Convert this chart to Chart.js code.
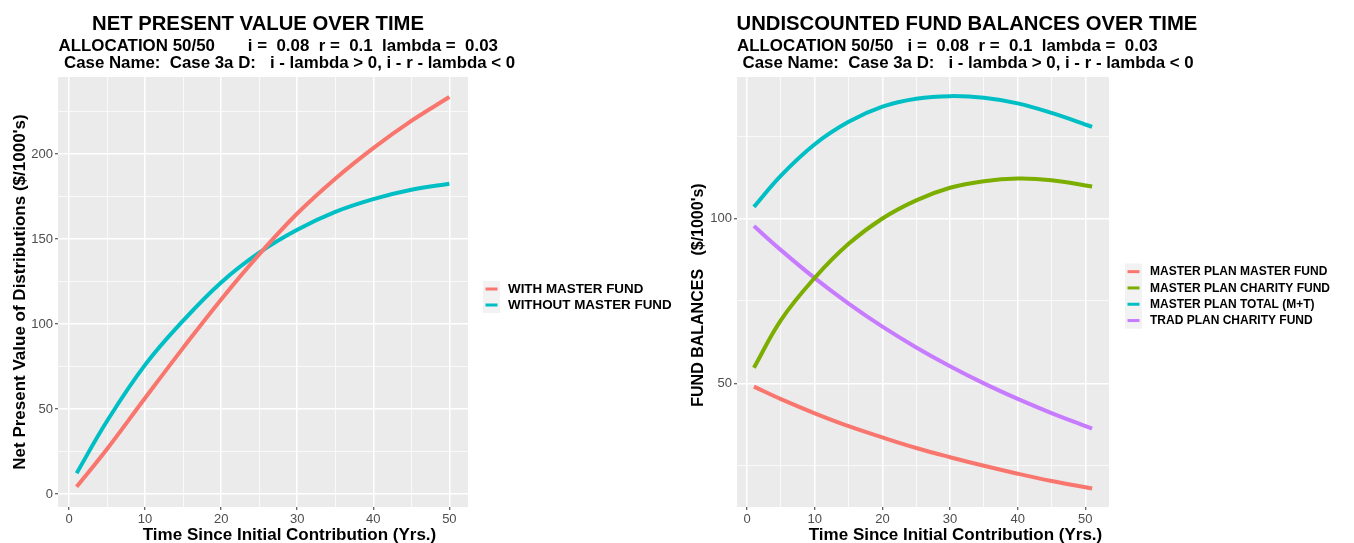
<!DOCTYPE html>
<html>
<head>
<meta charset="utf-8">
<script src="https://cdn.jsdelivr.net/npm/chart.js@4.4.1/dist/chart.umd.min.js"></script>
<style>
html, body { margin: 0; padding: 0; background: #ffffff; }
#wrap { position: relative; width: 1354px; height: 543px; overflow: hidden; }
#npv-box { position: absolute; left: 0; top: 0; width: 680px; height: 543px; }
#bal-box { position: absolute; left: 680px; top: 0; width: 674px; height: 543px; }
</style>
</head>
<body>
<div id="wrap">
  <div id="npv-box"><canvas id="chart-npv" width="680" height="543"></canvas></div>
  <div id="bal-box"><canvas id="chart-bal" width="674" height="543"></canvas></div>
</div>
<script>
// left panel - net present value
var npvYears = [1, 5, 10, 15, 20, 25, 30, 35, 40, 45, 50];
var npvWithMaster = [4.3, 26.5, 56.5, 86, 114.5, 141, 165, 185.5, 203.5, 219.5, 233.5];
var npvWithoutMaster = [12.3, 43, 76, 102, 124.5, 142, 155.5, 166, 173.5, 179, 182.5];
var npvLabels = ['WITH MASTER FUND', 'WITHOUT MASTER FUND'];
var npvYTicks = [0, 50, 100, 150, 200];
var npvYMinor = [25, 75, 125, 175, 225];

// right panel - undiscounted balances
var balYears = [1, 5, 10, 15, 20, 25, 30, 35, 40, 45, 51];
var balMasterFund = [49, 45.2, 40.9, 37, 33.6, 30.4, 27.6, 25, 22.6, 20.4, 18.1];
var balCharityFund = [54.7, 69.2, 82, 92.3, 100, 105.5, 109.3, 111.3, 112.1, 111.6, 109.7];
var balTotal = [103.5, 113, 122.5, 129.3, 133.9, 136.3, 137.1, 136.6, 134.9, 132, 127.8];
var balTradCharity = [97.7, 90.4, 81.9, 74.2, 67.2, 60.9, 55.2, 50, 45.3, 41, 36.3];
var balLabels = ['MASTER PLAN MASTER FUND', 'MASTER PLAN CHARITY FUND', 'MASTER PLAN TOTAL (M+T)', 'TRAD PLAN CHARITY FUND'];
var balYTicks = [50, 100];
var balYMinor = [25, 75, 125];

var xTicks = [0, 10, 20, 30, 40, 50];
var xMinor = [5, 15, 25, 35, 45];

var npvTitle = 'NET PRESENT VALUE OVER TIME';
var npvSub1 = 'ALLOCATION 50/50       i =  0.08  r =  0.1  lambda =  0.03';
var balTitle = 'UNDISCOUNTED FUND BALANCES OVER TIME';
var balSub1 = 'ALLOCATION 50/50   i =  0.08  r =  0.1  lambda =  0.03';
var caseLine = 'Case Name:  Case 3a D:   i - lambda > 0, i - r - lambda < 0';
var xTitle = 'Time Since Initial Contribution (Yrs.)';
var npvYTitle = "Net Present Value of Distributions ($/1000's)";
var balYTitle = "FUND BALANCES   ($/1000's)";

var FONT = "'Liberation Sans', Arial, sans-serif";

function points(xs, ys) {
    return xs.map(function(x, i) { return { x: x, y: ys[i] }; });
}

function line(label, xs, ys, color) {
    return {
        label: label,
        data: points(xs, ys),
        borderColor: color,
        backgroundColor: color,
        borderWidth: 4,
        pointRadius: 0,
        fill: false,
        tension: 0.4
    };
}

function isMajor(list, ctx) {
    return ctx.tick && list.indexOf(ctx.tick.value) >= 0;
}

function axis(min, max, majors, minors, fit) {
    var all = majors.concat(minors).sort(function(a, b) { return a - b; });
    return {
        type: 'linear',
        min: min,
        max: max,
        afterBuildTicks: function(scale) {
            scale.ticks = all.map(function(v) { return { value: v }; });
        },
        afterFit: fit,
        border: { display: false },
        grid: {
            color: '#ffffff',
            lineWidth: function(ctx) { return isMajor(majors, ctx) ? 1.5 : 0.7; },
            tickColor: function(ctx) { return isMajor(majors, ctx) ? '#333333' : 'rgba(0,0,0,0)'; },
            tickLength: 3,
            tickWidth: 1
        },
        ticks: {
            autoSkip: false,
            maxRotation: 0,
            padding: 2,
            color: '#4D4D4D',
            font: { family: FONT, size: 13 },
            callback: function(value) { return majors.indexOf(value) >= 0 ? String(value) : ''; }
        }
    };
}

// grey panel behind the grid
var panelBg = {
    id: 'panelBg',
    beforeDraw: function(chart) {
        var a = chart.chartArea, c = chart.ctx;
        c.save();
        c.fillStyle = '#EBEBEB';
        c.fillRect(a.left, a.top, a.right - a.left, a.bottom - a.top);
        c.restore();
    }
};

// titles, axis titles and a ggplot style legend
function overlay(cfg) {
    return {
        id: 'overlay',
        afterDraw: function(chart) {
            var c = chart.ctx;
            c.save();
            c.fillStyle = '#000000';
            c.textBaseline = 'alphabetic';
            cfg.texts.forEach(function(t) {
                c.font = 'bold ' + t.size + 'px ' + FONT;
                c.textAlign = t.align || 'left';
                c.fillText(t.text, t.x, t.y);
            });
            // y axis title
            c.font = 'bold ' + cfg.yTitle.size + 'px ' + FONT;
            c.textAlign = 'center';
            c.textBaseline = 'middle';
            c.translate(cfg.yTitle.x, cfg.yTitle.y);
            c.rotate(-Math.PI / 2);
            c.fillText(cfg.yTitle.text, 0, 0);
            c.restore();

            // legend
            c.save();
            var lg = cfg.legend;
            var sets = chart.data.datasets;
            c.fillStyle = '#F2F2F2';
            c.fillRect(lg.x, lg.top, 17, lg.row * sets.length);
            c.font = 'bold ' + lg.size + 'px ' + FONT;
            c.textBaseline = 'middle';
            c.textAlign = 'left';
            sets.forEach(function(ds, i) {
                var cy = lg.top + lg.row * i + lg.row / 2;
                c.strokeStyle = ds.borderColor;
                c.lineWidth = 3;
                c.beginPath();
                c.moveTo(lg.x + 2.5, cy);
                c.lineTo(lg.x + 14.5, cy);
                c.stroke();
                c.fillStyle = '#000000';
                c.fillText(ds.label, lg.x + 25, cy + 0.5);
            });
            c.restore();
        }
    };
}

function baseOptions(scales, padRight) {
    return {
        responsive: false,
        animation: false,
        devicePixelRatio: 1,
        events: [],
        layout: { padding: { left: 0, right: padRight, top: 77, bottom: 0 } },
        plugins: { legend: { display: false }, tooltip: { enabled: false }, title: { display: false } },
        scales: scales
    };
}

var npvChart = new Chart(document.getElementById('chart-npv'), {
    type: 'line',
    data: {
        datasets: [
            line(npvLabels[0], npvYears, npvWithMaster, '#F8766D'),
            line(npvLabels[1], npvYears, npvWithoutMaster, '#00BFC4')
        ]
    },
    options: baseOptions({
        x: axis(-1.45, 52.45, xTicks, xMinor, function(s) { s.height = 36; }),
        y: axis(-7.6, 245.3, npvYTicks, npvYMinor, function(s) { s.width = 58; })
    }, 212),
    plugins: [panelBg, overlay({
        texts: [
            { text: npvTitle, size: 20.3, x: 92, y: 29.5 },
            { text: npvSub1, size: 16.9, x: 58.5, y: 51 },
            { text: caseLine, size: 16.85, x: 64, y: 68 },
            { text: xTitle, size: 17, x: 289.5, y: 540, align: 'center' }
        ],
        yTitle: { text: npvYTitle, size: 17, x: 20, y: 292 },
        legend: { x: 483, top: 281, row: 16, size: 13.4 }
    })]
});

var balChart = new Chart(document.getElementById('chart-bal'), {
    type: 'line',
    data: {
        datasets: [
            line(balLabels[0], balYears, balMasterFund, '#F8766D'),
            line(balLabels[1], balYears, balCharityFund, '#7CAE00'),
            line(balLabels[2], balYears, balTotal, '#00BFC4'),
            line(balLabels[3], balYears, balTradCharity, '#C77CFF')
        ]
    },
    options: baseOptions({
        x: axis(-1.5, 53.5, xTicks, xMinor, function(s) { s.height = 36; }),
        y: axis(12.5, 142.9, balYTicks, balYMinor, function(s) { s.width = 57; })
    }, 245),
    plugins: [panelBg, overlay({
        texts: [
            { text: balTitle, size: 20.3, x: 56.5, y: 29.5 },
            { text: balSub1, size: 16.9, x: 57, y: 51 },
            { text: caseLine, size: 16.85, x: 62.5, y: 68 },
            { text: xTitle, size: 17, x: 275.5, y: 540, align: 'center' }
        ],
        yTitle: { text: balYTitle, size: 16, x: 19, y: 295 },
        legend: { x: 445, top: 263.5, row: 16.3, size: 12 }
    })]
});
</script>
</body>
</html>
